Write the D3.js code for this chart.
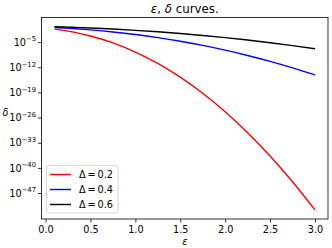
<!DOCTYPE html>
<html>
<head>
<meta charset="utf-8">
<script src="https://cdn.jsdelivr.net/npm/d3@7"></script>
<style>
  html, body { margin: 0; padding: 0; background: #fff; }
  svg { display: block; }
  text { font-family: "DejaVu Sans", sans-serif; fill: #000; }
</style>
</head>
<body>
<svg id="chart" width="332" height="248"></svg>
<script>
// ---- data ----
const epsilon = [0.1, 0.2, 0.3, 0.5, 0.75, 1.0, 1.25, 1.5, 1.75, 2.0, 2.25, 2.5, 2.75, 3.0];
const delta02 = [4.15e-2, 1.84e-2, 6.79e-3, 5.13e-4, 6.10e-6, 1.75e-8, 1.16e-11, 1.73e-15, 5.68e-20, 4.05e-25, 6.22e-31, 2.05e-37, 1.45e-44, 2.16e-52];
const delta04 = [1.19e-1, 8.66e-2, 6.03e-2, 2.56e-2, 6.76e-3, 1.30e-3, 1.80e-4, 1.75e-5, 1.20e-6, 5.70e-8, 1.88e-9, 4.30e-11, 6.73e-13, 7.2e-15];
const delta06 = [1.99e-1, 1.65e-1, 1.35e-1, 8.50e-2, 4.28e-2, 1.90e-2, 7.33e-3, 2.45e-3, 7.07e-4, 1.76e-4, 3.73e-5, 6.78e-6, 1.05e-6, 1.38e-7];
const seriesLabels = ["Δ\u2009=\u20090.2", "Δ\u2009=\u20090.4", "Δ\u2009=\u20090.6"];
const seriesColors = ["#ff0000", "#0000ff", "#000000"];
const xTicks = [0.0, 0.5, 1.0, 1.5, 2.0, 2.5, 3.0];
const yTickExps = [-5, -12, -19, -26, -33, -40, -47];
const titleText = "curves.";

// ---- layout ----
const W = 332, H = 248;
const m = { left: 41.5, right: 4, top: 17.5, bottom: 29 };
const svg = d3.select("#chart");
const x0 = m.left, x1 = W - m.right, y0 = m.top, y1 = H - m.bottom;

const allSeries = [delta02, delta04, delta06];
const xMin = d3.min(epsilon), xMax = d3.max(epsilon);
const xPad = 0.05 * (xMax - xMin);
const x = d3.scaleLinear().domain([xMin - xPad, xMax + xPad]).range([x0, x1]);

const lo = Math.log10(d3.min(allSeries.flat())), hi = Math.log10(d3.max(allSeries.flat()));
const yPad = 0.05 * (hi - lo);
const y = d3.scaleLog().domain([Math.pow(10, lo - yPad), Math.pow(10, hi + yPad)]).range([y1, y0]);

const FS = 9.7;

// ---- lines ----
const line = d3.line()
  .x(d => x(d[0]))
  .y(d => y(d[1]))
  .curve(d3.curveMonotoneX);

const plot = svg.append("g");
plot.append("defs").append("clipPath").attr("id", "clip")
  .append("rect").attr("x", x0).attr("y", y0).attr("width", x1 - x0).attr("height", y1 - y0);

allSeries.forEach((s, i) => {
  plot.append("path")
    .datum(epsilon.map((e, j) => [e, s[j]]))
    .attr("d", line)
    .attr("fill", "none")
    .attr("stroke", seriesColors[i])
    .attr("stroke-width", 1.4)
    .attr("clip-path", "url(#clip)");
});

// ---- axes ----
const xAxis = d3.axisBottom(x).tickValues(xTicks).tickFormat(d3.format(".1f")).tickSizeOuter(0).tickSize(3.5).tickPadding(3.5);
const gx = svg.append("g").attr("transform", `translate(0,${y1})`).call(xAxis);
gx.select(".domain").remove();
gx.selectAll("line").attr("stroke", "#000").attr("stroke-width", 0.8);
gx.selectAll("text").attr("font-size", FS).attr("font-family", "DejaVu Sans");

const yAxis = d3.axisLeft(y).tickValues(yTickExps.map(e => Math.pow(10, e))).tickFormat("").tickSizeOuter(0).tickSize(3.5);
const gy = svg.append("g").attr("transform", `translate(${x0},0)`).call(yAxis);
gy.select(".domain").remove();
gy.selectAll("line").attr("stroke", "#000").attr("stroke-width", 0.8);

// y tick labels with superscript exponents
yTickExps.forEach(e => {
  const yy = y(Math.pow(10, e));
  const t = svg.append("text")
    .attr("x", x0 - 5.5)
    .attr("y", yy + 3.6)
    .attr("text-anchor", "end")
    .attr("font-size", FS);
  t.append("tspan").text("10");
  t.append("tspan").attr("font-size", FS * 0.7).attr("dy", -4.3).text("−" + Math.abs(e));
});

// frame
svg.append("rect")
  .attr("x", x0).attr("y", y0).attr("width", x1 - x0).attr("height", y1 - y0)
  .attr("fill", "none").attr("stroke", "#000").attr("stroke-width", 0.8);

// ---- title & labels ----
const title = svg.append("text")
  .attr("x", (x0 + x1) / 2).attr("y", 13)
  .attr("text-anchor", "middle").attr("font-size", 11.8);
title.append("tspan").attr("font-style", "italic").text("ε");
title.append("tspan").text(", ");
title.append("tspan").attr("font-style", "italic").text("δ");
title.append("tspan").text(" " + titleText);

svg.append("text")
  .attr("x", (x0 + x1) / 2).attr("y", 244.5)
  .attr("text-anchor", "middle").attr("font-size", FS)
  .attr("font-style", "italic").text("ε");

svg.append("text")
  .attr("x", 5.5).attr("y", 116)
  .attr("text-anchor", "middle").attr("font-size", FS)
  .attr("font-style", "italic").text("δ");

// ---- legend ----
const lg = svg.append("g");
lg.append("rect")
  .attr("x", 46.5).attr("y", 165.5).attr("width", 71.5).attr("height", 47.5)
  .attr("rx", 2).attr("ry", 2)
  .attr("fill", "#fff").attr("fill-opacity", 0.8)
  .attr("stroke", "#cccccc").attr("stroke-width", 0.8);
seriesLabels.forEach((lab, i) => {
  const ly = 174.5 + i * 15;
  lg.append("line")
    .attr("x1", 50).attr("x2", 71).attr("y1", ly).attr("y2", ly)
    .attr("stroke", seriesColors[i]).attr("stroke-width", 1.4);
  lg.append("text")
    .attr("x", 79).attr("y", ly + 3.5)
    .attr("font-size", FS).text(lab);
});
</script>
</body>
</html>
